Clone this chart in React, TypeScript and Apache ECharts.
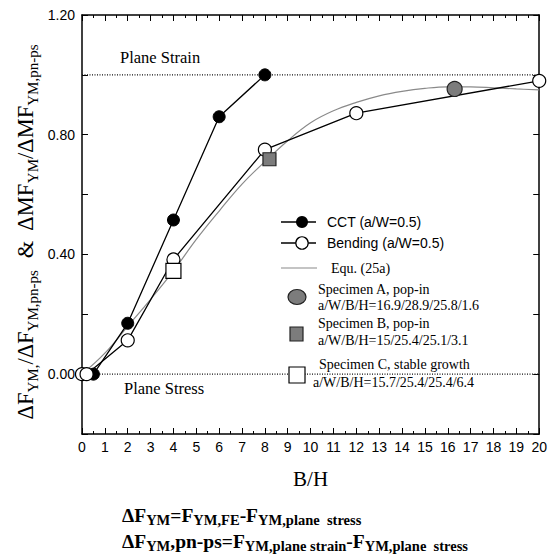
import React, { useEffect, useRef } from "react";
import * as echarts from "echarts";

// ---- data ----
const cctData: [number, number][] = [
  [0.5, 0], [2, 0.17], [4, 0.515], [6, 0.86], [8, 1.0],
];
const bendingData: [number, number][] = [
  [0, 0], [0.2, 0], [2, 0.113], [4, 0.383], [8, 0.75], [12, 0.872], [20, 0.98],
];
const equX = [0, 1, 2, 3, 4, 5, 6, 7, 8, 9, 10, 11, 12, 13, 14, 15, 16, 17, 18, 19, 20];
const equY = [0, 0.07, 0.16, 0.25, 0.345, 0.45, 0.545, 0.635, 0.71, 0.78, 0.84, 0.88, 0.908, 0.93, 0.945, 0.955, 0.96, 0.96, 0.957, 0.953, 0.95];
const specimenA: [number, number][] = [[16.3, 0.953]];
const specimenB: [number, number][] = [[8.2, 0.718]];
const specimenC: [number, number][] = [[4.0, 0.345]];
const planeStrain: [number, number][] = [[0, 1.0], [20, 1.0]];
const planeStress: [number, number][] = [[0, 0], [20, 0]];
const yLabelValues = [0, 0.4, 0.8, 1.2];

const SERIF = "Liberation Serif";
const SANS = "Liberation Sans";

export default function App() {
  const ref = useRef<HTMLDivElement>(null);
  useEffect(() => {
    document.body.style.margin = "0";
    if (!ref.current) return;
    const chart = echarts.init(ref.current, null, { renderer: "svg" });
    const axisLine = { show: true, onZero: false, lineStyle: { color: "#000", width: 1.5 } };
    const tick = { show: true, inside: true, length: 6, lineStyle: { color: "#000", width: 1 } };
    const minor = { show: true, splitNumber: 2, length: 3, lineStyle: { color: "#000", width: 1 } };
    const equData = equX.map((x, i) => [x, equY[i]]);
    const legendX = 302;
    const fRich = {
      b: { fontFamily: SERIF, fontSize: 19.5, fontWeight: "bold", lineHeight: 24, fill: "#000", color: "#000" },
      s: { fontFamily: SERIF, fontSize: 14.5, fontWeight: "bold", lineHeight: 14, verticalAlign: "bottom", fill: "#000", color: "#000" },
    };
    const option: any = {
      animation: false,
      grid: { left: 82, right: 7, top: 15, bottom: 121, containLabel: false },
      xAxis: [
        {
          type: "value", min: 0, max: 20, interval: 1, position: "bottom",
          axisLine, axisTick: tick, minorTick: minor,
          splitLine: { show: false }, minorSplitLine: { show: false },
          axisLabel: { color: "#000", fontFamily: SANS, fontSize: 14, margin: 6 },
          name: "B/H", nameLocation: "middle", nameGap: 34,
          nameTextStyle: { fontFamily: SERIF, fontSize: 21, color: "#000" },
        },
        {
          type: "value", min: 0, max: 20, interval: 1, position: "top",
          axisLine, axisTick: tick, minorTick: minor,
          splitLine: { show: false }, minorSplitLine: { show: false },
          axisLabel: { show: false },
        },
      ],
      yAxis: [
        {
          type: "value", min: -0.2, max: 1.2, interval: 0.2, position: "left",
          axisLine, axisTick: tick, splitLine: { show: false },
          axisLabel: {
            color: "#000", fontFamily: SANS, fontSize: 14, margin: 7,
            formatter: (v: number) =>
              yLabelValues.some((t) => Math.abs(t - v) < 1e-6) ? v.toFixed(2) : "",
          },
        },
        {
          type: "value", min: -0.2, max: 1.2, interval: 0.2, position: "right",
          axisLine, axisTick: tick, splitLine: { show: false },
          axisLabel: { show: false },
        },
      ],
      series: [
        {
          name: "Plane strain", type: "line", data: planeStrain, symbol: "none", z: 1,
          lineStyle: { color: "#111", width: 1.3, type: [1, 1.5] },
        },
        {
          name: "Plane stress", type: "line", data: planeStress, symbol: "none", z: 1,
          lineStyle: { color: "#111", width: 1.3, type: [1, 1.5] },
        },
        {
          name: "Equ. (25a)", type: "line", data: equData, symbol: "none", smooth: 0.4, z: 2,
          lineStyle: { color: "#8a8a8a", width: 1.2 },
        },
        {
          name: "CCT", type: "line", data: cctData, symbol: "circle", symbolSize: 12, z: 3,
          lineStyle: { color: "#000", width: 1.3 },
          itemStyle: { color: "#000", borderColor: "#000" },
        },
        {
          name: "Bending", type: "line", data: bendingData, symbol: "circle", symbolSize: 13, z: 4,
          lineStyle: { color: "#000", width: 1.3 },
          itemStyle: { color: "#fff", borderColor: "#000", borderWidth: 1.2 },
        },
        {
          name: "Specimen A", type: "scatter", data: specimenA, symbol: "circle", symbolSize: 15, z: 5,
          itemStyle: { color: "#7c7c7c", borderColor: "#222", borderWidth: 1.2, opacity: 1 },
        },
        {
          name: "Specimen B", type: "scatter", data: specimenB, symbol: "rect", symbolSize: 13, z: 5,
          itemStyle: { color: "#7c7c7c", borderColor: "#222", borderWidth: 1.2, opacity: 1 },
        },
        {
          name: "Specimen C", type: "scatter", data: specimenC, symbol: "rect", symbolSize: 15, z: 5,
          itemStyle: { color: "#fff", borderColor: "#000", borderWidth: 1.2, opacity: 1 },
        },
      ],
      graphic: [
        // annotations
        { type: "text", x: 120, y: 57, style: { text: "Plane Strain", fontFamily: SERIF, fontSize: 16.5, fill: "#000", verticalAlign: "middle" } },
        { type: "text", x: 124, y: 388, style: { text: "Plane Stress", fontFamily: SERIF, fontSize: 16.5, fill: "#000", verticalAlign: "middle" } },
        // legend: CCT
        { type: "line", shape: { x1: 281, y1: 222, x2: 316, y2: 222 }, style: { stroke: "#000", lineWidth: 1.3 } },
        { type: "circle", shape: { cx: legendX, cy: 222, r: 6 }, style: { fill: "#000" } },
        { type: "text", x: 327, y: 222, style: { text: "CCT (a/W=0.5)", fontFamily: SANS, fontSize: 14, fill: "#000", verticalAlign: "middle" } },
        // legend: Bending
        { type: "line", shape: { x1: 281, y1: 243, x2: 316, y2: 243 }, style: { stroke: "#000", lineWidth: 1.3 } },
        { type: "circle", shape: { cx: legendX, cy: 243, r: 6.2 }, style: { fill: "#fff", stroke: "#000", lineWidth: 1.2 } },
        { type: "text", x: 327, y: 243, style: { text: "Bending (a/W=0.5)", fontFamily: SANS, fontSize: 14, fill: "#000", verticalAlign: "middle" } },
        // legend: Equ
        { type: "line", shape: { x1: 281, y1: 268, x2: 317, y2: 268 }, style: { stroke: "#8a8a8a", lineWidth: 1.2 } },
        { type: "text", x: 331, y: 268, style: { text: "Equ. (25a)", fontFamily: SERIF, fontSize: 14, fill: "#000", verticalAlign: "middle" } },
        // legend: Specimen A
        { type: "ellipse", shape: { cx: 297, cy: 297, rx: 9, ry: 7.5 }, style: { fill: "#7c7c7c", stroke: "#222", lineWidth: 1.2 } },
        { type: "text", x: 318, y: 289, style: { text: "Specimen A, pop-in", fontFamily: SERIF, fontSize: 14, fill: "#000", verticalAlign: "middle" } },
        { type: "text", x: 318, y: 305, style: { text: "a/W/B/H=16.9/28.9/25.8/1.6", fontFamily: SERIF, fontSize: 14, fill: "#000", verticalAlign: "middle" } },
        // legend: Specimen B
        { type: "rect", shape: { x: 290, y: 327, width: 13, height: 14 }, style: { fill: "#7c7c7c", stroke: "#222", lineWidth: 1.2 } },
        { type: "text", x: 318, y: 323, style: { text: "Specimen B, pop-in", fontFamily: SERIF, fontSize: 14, fill: "#000", verticalAlign: "middle" } },
        { type: "text", x: 318, y: 340, style: { text: "a/W/B/H=15/25.4/25.1/3.1", fontFamily: SERIF, fontSize: 14, fill: "#000", verticalAlign: "middle" } },
        // legend: Specimen C
        { type: "rect", shape: { x: 289, y: 367, width: 16, height: 16 }, z: 10, style: { fill: "#fff", stroke: "#000", lineWidth: 1.2 } },
        { type: "text", x: 319, y: 364, style: { text: "Specimen C, stable growth", fontFamily: SERIF, fontSize: 14, fill: "#000", verticalAlign: "middle" } },
        { type: "text", x: 313, y: 382, style: { text: "a/W/B/H=15.7/25.4/25.4/6.4", fontFamily: SERIF, fontSize: 14, fill: "#000", verticalAlign: "middle" } },
        // y-axis title
        {
          type: "text", x: 25, y: 232, rotation: Math.PI / 2,
          style: {
            text: "{m|ΔF}{s|YM,}{m|/ΔF}{s|YM,pn-ps}{m|  &  ΔMF}{s|YM}{m|/ΔMF}{s|YM,pn-ps}",
            align: "center", verticalAlign: "middle",
            rich: {
              m: { fontFamily: SERIF, fontSize: 22.5, lineHeight: 30, fill: "#000", color: "#000" },
              s: { fontFamily: SERIF, fontSize: 15, lineHeight: 15, verticalAlign: "bottom", fill: "#000", color: "#000" },
            },
          },
        },
        // formulas
        {
          type: "text", x: 122, y: 515,
          style: {
            text: "{b|ΔF}{s|YM}{b|=F}{s|YM,FE}{b|-F}{s|YM,plane  stress}",
            verticalAlign: "middle",
            rich: fRich,
          },
        },
        {
          type: "text", x: 122, y: 541,
          style: {
            text: "{b|ΔF}{s|YM}{b|,pn-ps=F}{s|YM,plane strain}{b|-F}{s|YM,plane  stress}",
            verticalAlign: "middle",
            rich: fRich,
          },
        },
      ],
    };
    chart.setOption(option);
    return () => chart.dispose();
  }, []);
  return <div ref={ref} style={{ width: 550, height: 555, background: "#fff" }} />;
}
